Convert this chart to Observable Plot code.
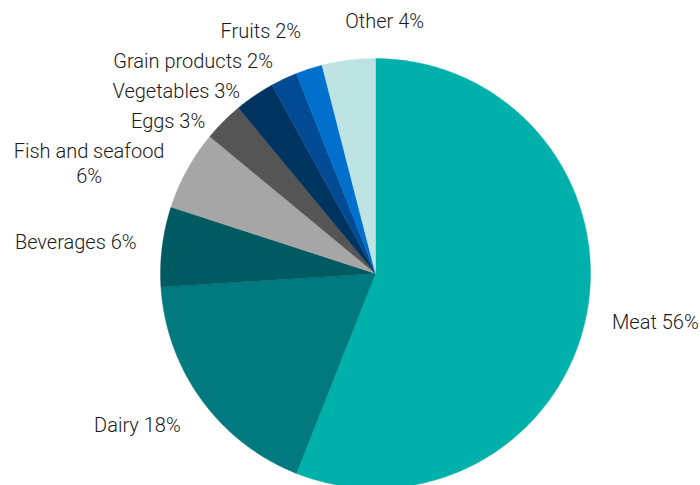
<!DOCTYPE html>
<html><head><meta charset="utf-8">
<script src="https://cdn.jsdelivr.net/npm/d3@7"></script>
<script src="https://cdn.jsdelivr.net/npm/@observablehq/plot@0.6"></script>
<style>body{margin:0;background:#fff}</style></head>
<body><div id="chart"></div>
<script>
const categories = ["Meat","Dairy","Beverages","Fish and seafood","Eggs","Vegetables","Grain products","Fruits","Other"];
const shares = [56,18,6,6,3,3,2,2,4];
const labels = ["Meat 56%","Dairy 18%","Beverages 6%","Fish and seafood\n6%","Eggs 3%","Vegetables 3%","Grain products 2%","Fruits 2%","Other 4%"];
const colors = ["#00b0aa","#007a7e","#005a62","#a6a6a6","#555555","#003460","#004b93","#0070cc","#bde3e3"];

const W = 700, H = 485, CX = 375, CY = 273, R = 215;
const FONT_SIZE = 20, FONT_FAMILY = "Roboto", FONT_WEIGHT = 300, LINE_H = 1.25;

const total = d3.sum(shares);
let acc = 0;
const slices = categories.map((c, i) => {
  const a0 = acc / total * 2 * Math.PI; acc += shares[i];
  const a1 = acc / total * 2 * Math.PI;
  return {c, a0, a1, mid: (a0 + a1) / 2, label: labels[i]};
});
const pts = [];
for (const s of slices) {
  pts.push({c: s.c, x: 0, y: 0});
  const n = Math.max(2, Math.ceil((s.a1 - s.a0) / (Math.PI / 360)));
  for (let k = 0; k <= n; k++) {
    const a = s.a0 + (s.a1 - s.a0) * k / n;
    pts.push({c: s.c, x: Math.sin(a), y: Math.cos(a)});
  }
  pts.push({c: s.c, x: 0, y: 0});
}

// label layout (computed from slice angles)
const ctx = document.createElement("canvas").getContext("2d");
ctx.font = `${FONT_WEIGHT} ${FONT_SIZE}px ${FONT_FAMILY}`;
const lab = slices.map(s => {
  const lines = s.label.split("\n");
  const w = d3.max(lines, l => ctx.measureText(l).width);
  const h = lines.length * FONT_SIZE * LINE_H / R;
  const sin = Math.sin(s.mid), cos = Math.cos(s.mid);
  return {label: s.label, w: w / R, h, sin, edge: 1.12 * sin, y: 1.19 * cos, left: sin < -0.2};
});
const gap = 5 / R;
const left = lab.filter(d => d.left).sort((a, b) => b.y - a.y);
for (let i = 1; i < left.length; i++) {
  const p = left[i - 1], d = left[i];
  const maxY = p.y - (p.h / 2 + d.h / 2 + gap);
  if (d.y > maxY) d.y = maxY;
}
for (const d of lab) d.x = d.left ? d.edge - d.w / 2 : d.edge + d.w / 2;

const chart = Plot.plot({
  width: W, height: H,
  margin: 0,
  x: {domain: [-CX / R, (W - CX) / R], axis: null},
  y: {domain: [-(H - CY) / R, CY / R], axis: null},
  color: {domain: categories, range: colors},
  style: {background: "#fff"},
  marks: [
    Plot.line(pts, {x: "x", y: "y", z: "c", fill: "c", stroke: "c", strokeWidth: 0.4, curve: "linear"}),
    Plot.text(lab, {x: "x", y: "y", text: "label", textAnchor: "middle", lineAnchor: "middle",
      fontSize: FONT_SIZE, fontFamily: FONT_FAMILY, fontWeight: FONT_WEIGHT, lineHeight: LINE_H, fill: "#1a1a1a"})
  ]
});
document.getElementById("chart").append(chart);
</script>
</body></html>
